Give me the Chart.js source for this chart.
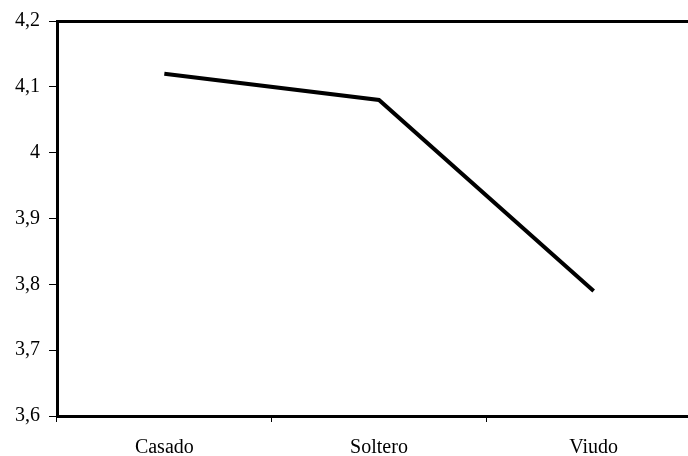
<!DOCTYPE html>
<html>
<head>
<meta charset="utf-8">
<script src="https://cdn.jsdelivr.net/npm/chart.js@4/dist/chart.umd.min.js"></script>
<style>
  html, body { margin: 0; padding: 0; background: #fff; overflow: hidden; }
  #wrap { position: absolute; left: 0; top: 0; width: 701px; height: 456px; }
</style>
</head>
<body>
<div id="wrap"><canvas id="estadoCivil" width="701" height="456"></canvas></div>
<script>
// Estado civil vs. puntuación media
const categorias = ['Casado', 'Soltero', 'Viudo'];
const medias = [4.12, 4.08, 3.79];
const ejeMin = 3.6;
const ejeMax = 4.2;
const ejePaso = 0.1;

const fuente = { family: "'Liberation Serif', 'Times New Roman', serif", size: 20 };

const ctx = document.getElementById('estadoCivil').getContext('2d');
new Chart(ctx, {
  type: 'line',
  data: {
    labels: categorias,
    datasets: [{
      data: medias,
      borderColor: '#000',
      borderWidth: 4,
      pointRadius: 0,
      fill: false,
      tension: 0,
    }]
  },
  options: {
    responsive: false,
    animation: false,
    layout: { padding: 0 },
    plugins: { legend: { display: false }, tooltip: { enabled: false } },
    scales: {
      x: {
        type: 'category',
        position: 'bottom',
        offset: true,
        grid: { offset: true, drawOnChartArea: false, drawTicks: true, tickLength: 6, color: '#000', lineWidth: 1 },
        border: { display: true, color: '#000', width: 3 },
        ticks: { color: '#000', font: fuente, padding: 14, maxRotation: 0 },
        afterFit: (scale) => { scale.height = 40; }
      },
      xTop: {
        type: 'category',
        position: 'top',
        labels: categorias,
        offset: true,
        grid: { display: false },
        border: { display: true, color: '#000', width: 3 },
        ticks: { display: false },
        afterFit: (scale) => { scale.height = 20; }
      },
      y: {
        min: ejeMin,
        max: ejeMax,
        grid: { drawOnChartArea: false, drawTicks: true, tickLength: 8, color: '#000', lineWidth: 1 },
        border: { display: true, color: '#000', width: 3 },
        ticks: {
          stepSize: ejePaso,
          color: '#000',
          font: fuente,
          padding: 9,
          callback: (v) => String(Number(v.toFixed(1))).replace('.', ',')
        },
        afterFit: (scale) => { scale.width = 57; }
      }
    }
  }
});
</script>
</body>
</html>
